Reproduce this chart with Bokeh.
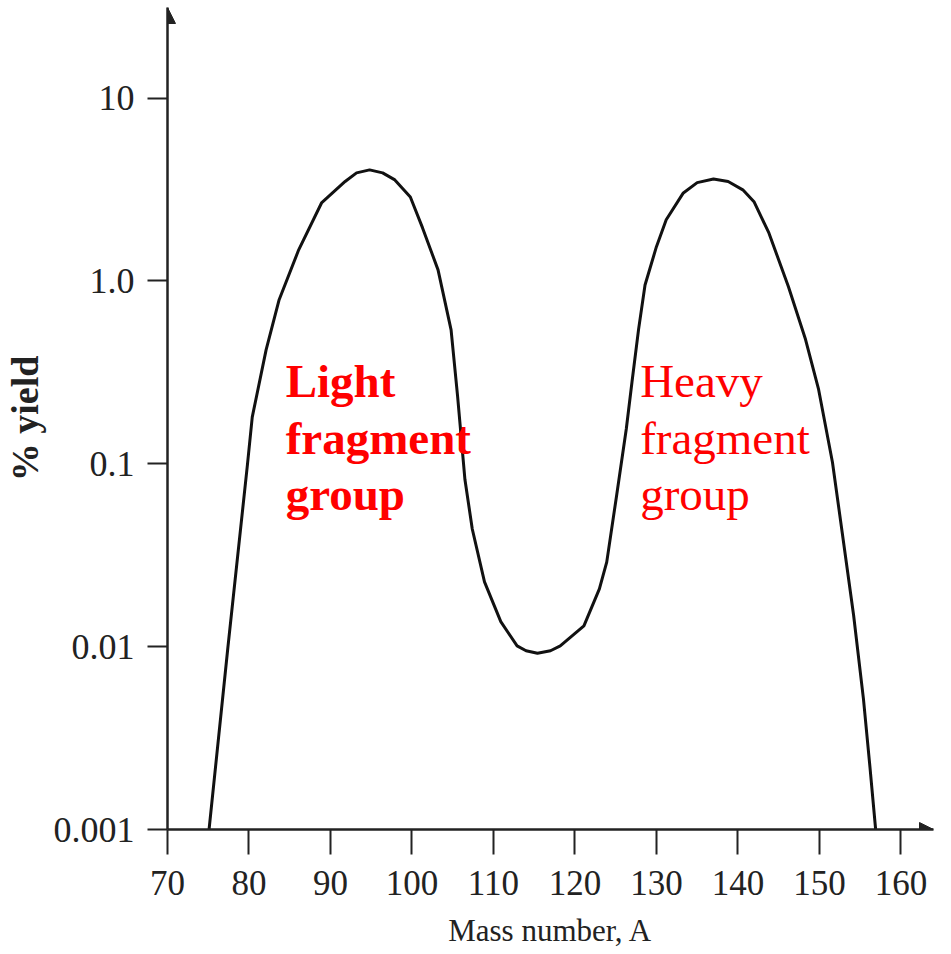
from bokeh.plotting import figure
from bokeh.models import Arrow, NormalHead, Label, FixedTicker
from bokeh.embed import file_html
from bokeh.resources import INLINE

# ---- data ----
MASS = [75.1, 77.4, 79.8, 80.4, 82.1, 83.7, 86.1, 88.9, 91.8, 93.2, 94.8, 96.4,
        97.9, 99.8, 101.3, 103.2, 104.8, 105.6, 106.5, 107.4, 108.9, 110.9,
        112.9, 114.0, 115.4, 117.0, 118.2, 121.1, 123.0, 123.9, 125.1, 126.3,
        127.0, 127.8, 128.6, 130.0, 131.2, 133.3, 135.0, 137.0, 138.8, 140.6,
        142.0, 143.8, 146.2, 148.3, 149.9, 151.6, 152.8, 154.2, 155.4, 156.2,
        156.9]
YIELD = [0.001, 0.0098, 0.098, 0.18, 0.42, 0.79, 1.48, 2.67, 3.5, 3.9, 4.05, 3.9,
         3.57, 2.88, 1.95, 1.15, 0.54, 0.234, 0.082, 0.044, 0.0226, 0.0137,
         0.0101, 0.0095, 0.0092, 0.0095, 0.0101, 0.0130, 0.0207, 0.029, 0.0665, 0.155,
         0.28, 0.54, 0.95, 1.54, 2.16, 3.03, 3.45, 3.61, 3.5, 3.15,
         2.7, 1.83, 0.93, 0.478, 0.255, 0.102, 0.042, 0.0148, 0.0052, 0.0022,
         0.001]

X_TICKS = [70, 80, 90, 100, 110, 120, 130, 140, 150, 160]
Y_TICKS = [0.001, 0.01, 0.1, 1.0, 10.0]
Y_TICK_LABELS = ["0.001", "0.01", "0.1", "1.0", "10"]

X_TITLE = "Mass number, A"
Y_TITLE = "% yield"
LIGHT_LINES = ["Light", "fragment", "group"]
HEAVY_LINES = ["Heavy", "fragment", "group"]

# ---- layout ----
X_MIN, X_MAX = 70, 164.0
Y_MIN, Y_MAX = 0.001, 31.3
LABEL_LINE_Y = [0.285, 0.138, 0.068]
LIGHT_X = 84.5
HEAVY_X = 128.0
SERIF = "Liberation Serif"
AXIS_COLOR = "#222222"

p = figure(width=935, height=950,
           x_range=(X_MIN, X_MAX), y_range=(Y_MIN, Y_MAX),
           y_axis_type="log",
           output_backend="svg", toolbar_location=None,
           min_border_left=162, min_border_right=2,
           min_border_top=7, min_border_bottom=119)

p.background_fill_color = "white"
p.border_fill_color = "white"
p.outline_line_color = None
p.xgrid.grid_line_color = None
p.ygrid.grid_line_color = None

p.line(MASS, YIELD, line_color="#111111", line_width=3)

# x axis
xa = p.xaxis[0]
xa.ticker = FixedTicker(ticks=X_TICKS)
xa.axis_line_color = AXIS_COLOR
xa.axis_line_width = 2.5
xa.major_tick_line_color = AXIS_COLOR
xa.major_tick_line_width = 2
xa.major_tick_out = 25
xa.major_tick_in = 0
xa.minor_tick_line_color = None
xa.major_label_text_font = SERIF
xa.major_label_text_font_size = "35px"
xa.major_label_text_color = "#222222"
xa.major_label_standoff = 16
xa.axis_label = X_TITLE
xa.axis_label_text_font = SERIF
xa.axis_label_text_font_size = "31px"
xa.axis_label_text_font_style = "normal"
xa.axis_label_text_color = "#222222"
xa.axis_label_standoff = 15

# y axis
ya = p.yaxis[0]
ya.ticker = FixedTicker(ticks=Y_TICKS)
ya.major_label_overrides = {t: s for t, s in zip(Y_TICKS, Y_TICK_LABELS)}
ya.axis_line_color = AXIS_COLOR
ya.axis_line_width = 2.5
ya.major_tick_line_color = AXIS_COLOR
ya.major_tick_line_width = 2
ya.major_tick_out = 20
ya.major_tick_in = 0
ya.minor_tick_line_color = None
ya.major_label_text_font = SERIF
ya.major_label_text_font_size = "36px"
ya.major_label_text_color = "#222222"
ya.major_label_standoff = 13
ya.axis_label = Y_TITLE
ya.axis_label_text_font = SERIF
ya.axis_label_text_font_size = "38px"
ya.axis_label_text_font_style = "bold"
ya.axis_label_text_color = "#222222"
ya.axis_label_standoff = 5

# axis arrows
p.add_layout(Arrow(end=NormalHead(size=16, fill_color=AXIS_COLOR, line_color=AXIS_COLOR),
                   x_start=X_MIN, y_start=Y_MIN, x_end=X_MIN, y_end=Y_MAX,
                   line_alpha=0))
p.add_layout(Arrow(end=NormalHead(size=14, fill_color=AXIS_COLOR, line_color=AXIS_COLOR),
                   x_start=X_MIN, y_start=Y_MIN, x_end=X_MAX, y_end=Y_MIN,
                   line_alpha=0))

# annotations
for txt, yy in zip(LIGHT_LINES, LABEL_LINE_Y):
    p.add_layout(Label(x=LIGHT_X, y=yy, text=txt, text_font=SERIF,
                       text_font_size="47px", text_font_style="bold",
                       text_color="red", text_baseline="alphabetic"))
for txt, yy in zip(HEAVY_LINES, LABEL_LINE_Y):
    p.add_layout(Label(x=HEAVY_X, y=yy, text=txt, text_font=SERIF,
                       text_font_size="47px", text_font_style="normal",
                       text_color="red", text_baseline="alphabetic"))

open("out.html", "w").write(file_html(p, INLINE))
